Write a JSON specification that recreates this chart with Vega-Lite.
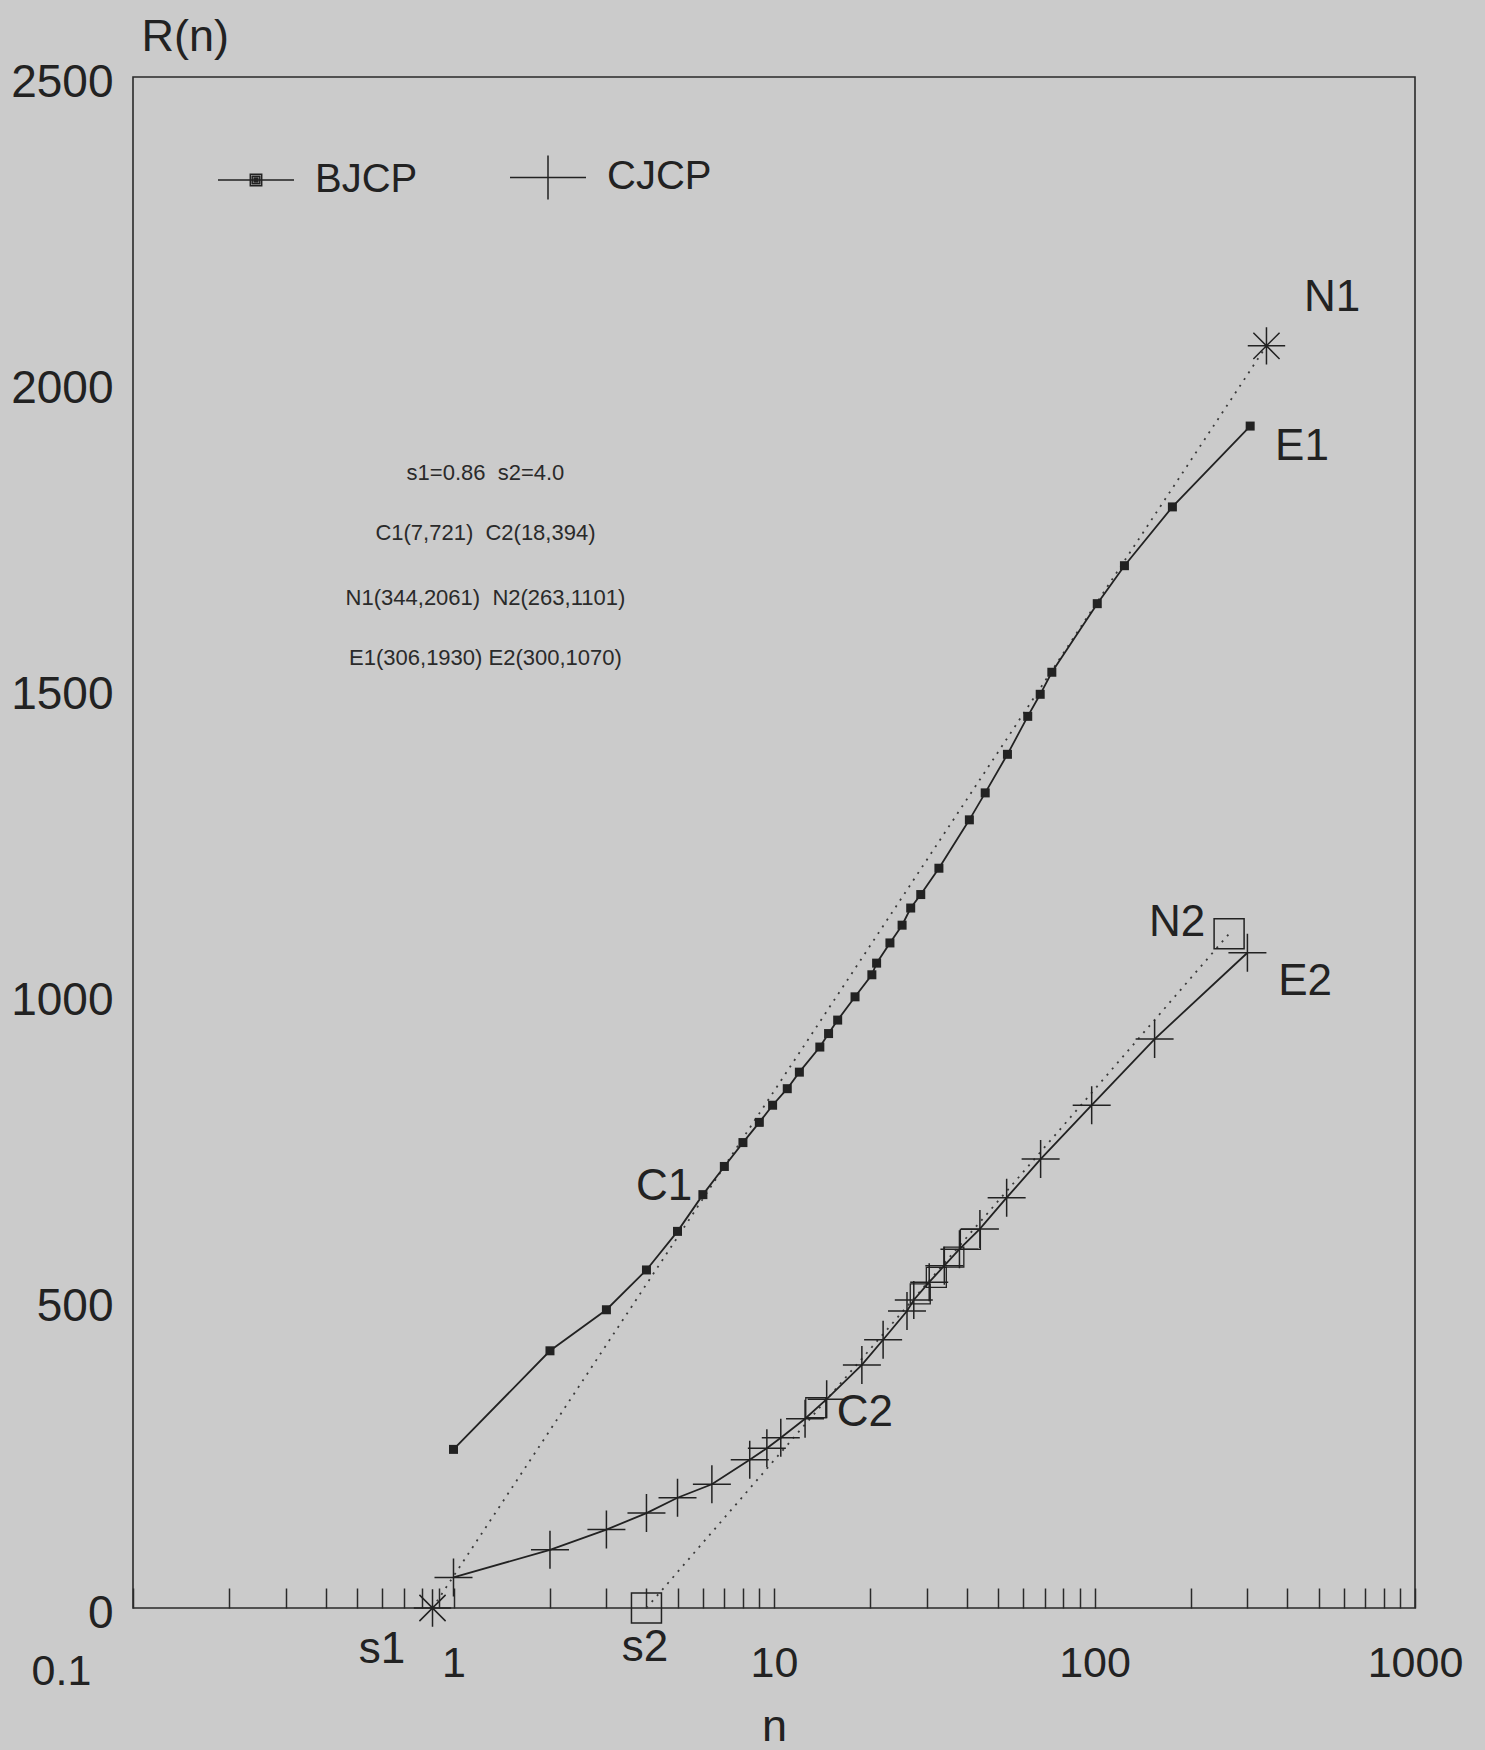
{
  "$schema": "https://vega.github.io/schema/vega-lite/v6.json",
  "width": 1282,
  "height": 1531,
  "autosize": {"type": "none"},
  "padding": {"left": 133, "top": 77, "right": 70, "bottom": 142},
  "background": "#cbcbcb",
  "config": {
    "view": {"stroke": "#2a2a2a", "strokeWidth": 1.6},
    "font": "Liberation Sans"
  },
  "datasets": {
    "bjcp": [
      {"series": "BJCP", "n": 1, "R": 259}, {"series": "BJCP", "n": 2, "R": 420}, {"series": "BJCP", "n": 3, "R": 487},
      {"series": "BJCP", "n": 4, "R": 552}, {"series": "BJCP", "n": 5, "R": 615}, {"series": "BJCP", "n": 6, "R": 675},
      {"series": "BJCP", "n": 7, "R": 721}, {"series": "BJCP", "n": 8, "R": 760}, {"series": "BJCP", "n": 9, "R": 793},
      {"series": "BJCP", "n": 9.9, "R": 821}, {"series": "BJCP", "n": 11, "R": 848}, {"series": "BJCP", "n": 12, "R": 875},
      {"series": "BJCP", "n": 13.9, "R": 916}, {"series": "BJCP", "n": 14.8, "R": 938}, {"series": "BJCP", "n": 15.8, "R": 960},
      {"series": "BJCP", "n": 17.9, "R": 998}, {"series": "BJCP", "n": 20.2, "R": 1034}, {"series": "BJCP", "n": 20.9, "R": 1053},
      {"series": "BJCP", "n": 23, "R": 1086}, {"series": "BJCP", "n": 25.1, "R": 1115}, {"series": "BJCP", "n": 26.7, "R": 1143},
      {"series": "BJCP", "n": 28.7, "R": 1165}, {"series": "BJCP", "n": 32.7, "R": 1208}, {"series": "BJCP", "n": 40.7, "R": 1287},
      {"series": "BJCP", "n": 45.6, "R": 1331}, {"series": "BJCP", "n": 53.5, "R": 1394}, {"series": "BJCP", "n": 61.9, "R": 1456},
      {"series": "BJCP", "n": 67.7, "R": 1492}, {"series": "BJCP", "n": 73.6, "R": 1528}, {"series": "BJCP", "n": 102, "R": 1640},
      {"series": "BJCP", "n": 124, "R": 1702}, {"series": "BJCP", "n": 175, "R": 1798}, {"series": "BJCP", "n": 306, "R": 1930}
    ],
    "cjcp": [
      {"series": "CJCP", "n": 1, "R": 50}, {"series": "CJCP", "n": 2, "R": 95}, {"series": "CJCP", "n": 3, "R": 128},
      {"series": "CJCP", "n": 4, "R": 155}, {"series": "CJCP", "n": 5, "R": 180}, {"series": "CJCP", "n": 6.4, "R": 202},
      {"series": "CJCP", "n": 8.4, "R": 242}, {"series": "CJCP", "n": 9.5, "R": 261}, {"series": "CJCP", "n": 10.5, "R": 278},
      {"series": "CJCP", "n": 12.5, "R": 309}, {"series": "CJCP", "n": 14.6, "R": 341}, {"series": "CJCP", "n": 18.8, "R": 397},
      {"series": "CJCP", "n": 21.9, "R": 438}, {"series": "CJCP", "n": 26, "R": 485}, {"series": "CJCP", "n": 27.3, "R": 503},
      {"series": "CJCP", "n": 30.5, "R": 532}, {"series": "CJCP", "n": 34, "R": 559}, {"series": "CJCP", "n": 37.9, "R": 586},
      {"series": "CJCP", "n": 43.9, "R": 619}, {"series": "CJCP", "n": 53.2, "R": 670}, {"series": "CJCP", "n": 67.9, "R": 733},
      {"series": "CJCP", "n": 98, "R": 821}, {"series": "CJCP", "n": 154, "R": 929}, {"series": "CJCP", "n": 300, "R": 1070}
    ],
    "dotted": [
      {"g": "1", "n": 0.86, "R": 0}, {"g": "1", "n": 344, "R": 2061},
      {"g": "2", "n": 4, "R": 0}, {"g": "2", "n": 263, "R": 1101}
    ],
    "bigsq": [{"n": 4, "R": 0}, {"n": 263, "R": 1101}],
    "smallsq": [
      {"n": 13.5, "R": 327}, {"n": 28.6, "R": 513}, {"n": 32.1, "R": 540}, {"n": 36.4, "R": 573}, {"n": 41, "R": 602}
    ],
    "stars": [{"n": 0.86, "R": 0}, {"n": 344, "R": 2061}],
    "labels": [
      {"text": "N1", "n": 551, "R": 2139}, {"text": "E1", "n": 444, "R": 1896},
      {"text": "N2", "n": 181, "R": 1119}, {"text": "E2", "n": 454, "R": 1022},
      {"text": "C1", "n": 4.54, "R": 687}, {"text": "C2", "n": 19.2, "R": 318},
      {"text": "s1", "n": 0.598, "R": -69}, {"text": "s2", "n": 3.96, "R": -65}
    ],
    "notes": [
      {"text": "s1=0.86\u00a0 s2=4.0", "n": 1.258, "R": 1853},
      {"text": "C1(7,721)\u00a0 C2(18,394)", "n": 1.258, "R": 1755},
      {"text": "N1(344,2061)\u00a0 N2(263,1101)", "n": 1.258, "R": 1649},
      {"text": "E1(306,1930) E2(300,1070)", "n": 1.258, "R": 1551}
    ]
  },
  "encoding": {
    "x": {
      "field": "n", "type": "quantitative",
      "scale": {"type": "log", "domain": [0.1, 1000], "nice": false},
      "axis": {
        "values": [0.1, 0.2, 0.3, 0.4, 0.5, 0.6, 0.7, 0.8, 0.9, 1, 2, 3, 4, 5, 6, 7, 8, 9, 10, 20, 30, 40, 50, 60, 70, 80, 90, 100, 200, 300, 400, 500, 600, 700, 800, 900, 1000],
        "format": "~g",
        "labelExpr": "indexof([0.1, 1, 10, 100, 1000], datum.value) >= 0 ? datum.label : ''",
        "tickSize": -20, "tickColor": "#2a2a2a", "tickWidth": 1.5,
        "domain": false, "grid": false,
        "labelFont": "Liberation Sans", "labelFontSize": 43, "labelColor": "#222222",
        "labelBaseline": "alphabetic",
        "labelPadding": {"condition": {"test": "datum.value == 0.1", "value": 96}, "value": 88},
        "labelOffset": {"condition": {"test": "datum.value == 0.1", "value": -72}, "value": 0},
        "labelOverlap": false, "labelFlush": false, "labelBound": false,
        "title": "n", "titleFont": "Liberation Sans", "titleFontSize": 45, "titleFontWeight": "normal", "titleColor": "#222222",
        "titleBaseline": "alphabetic", "titleY": 132
      }
    },
    "y": {
      "field": "R", "type": "quantitative",
      "scale": {"domain": [0, 2500], "nice": false, "zero": false},
      "axis": {
        "values": [0, 500, 1000, 1500, 2000, 2500], "format": "d",
        "ticks": false, "domain": false, "grid": false,
        "labelFont": "Liberation Sans", "labelFontSize": 46, "labelColor": "#222222", "labelPadding": 20, "labelOffset": 5,
        "title": "R(n)", "titleAngle": 0, "titleAlign": "left", "titleBaseline": "alphabetic",
        "titleX": 8, "titleY": -27, "titleFont": "Liberation Sans", "titleFontSize": 45, "titleFontWeight": "normal", "titleColor": "#222222"
      }
    }
  },
  "layer": [
    {
      "data": {"name": "dotted"},
      "mark": {"type": "line", "color": "#3a3a3a", "strokeWidth": 1.8, "strokeDash": [2, 6]},
      "encoding": {"detail": {"field": "g", "type": "nominal"}}
    },
    {
      "data": {"name": "bjcp"},
      "mark": {"type": "line", "color": "#222222", "strokeWidth": 1.8},
      "encoding": {}
    },
    {
      "data": {"name": "cjcp"},
      "mark": {"type": "line", "color": "#222222", "strokeWidth": 1.8},
      "encoding": {}
    },
    {
      "data": {"name": "bjcp"},
      "mark": {"type": "point", "shape": "square", "filled": true, "color": "#222222", "size": 81, "opacity": 1}
    },
    {
      "data": {"name": "cjcp"},
      "mark": {"type": "point", "shape": "M-1,0H1M0,-1V1", "filled": false, "color": "#222222", "strokeWidth": 1.5, "size": 1444, "opacity": 1}
    },
    {
      "data": {"name": "bjcp"},
      "transform": [{"filter": "false"}],
      "mark": {"type": "point", "filled": false, "color": "#222222", "strokeWidth": 1.5, "size": 5776, "opacity": 1},
      "encoding": {
        "shape": {
          "field": "series", "type": "nominal",
          "scale": {
            "domain": ["BJCP", "CJCP"],
            "range": [
              "M-1,0H1M-0.15,-0.15H0.15V0.15H-0.15ZM-0.1,-0.1H0.1V0.1H-0.1ZM-0.05,-0.05H0.05V0.05H-0.05ZM-0.02,-0.02H0.02V0.02H-0.02Z",
              "M-1,0H1M0,-0.58V0.58"
            ]
          },
          "legend": {
            "orient": "none", "legendX": 84, "legendY": 61, "direction": "horizontal", "columns": 2,
            "title": null, "padding": 0, "symbolSize": 5776, "columnPadding": 89,
            "labelFont": "Liberation Sans", "labelFontSize": 40, "labelColor": "#222222", "labelOffset": 20,
            "symbolStrokeWidth": 1.5, "symbolStrokeColor": "#222222", "symbolOpacity": 1
          }
        }
      }
    },
    {
      "data": {"name": "bigsq"},
      "mark": {"type": "point", "shape": "square", "filled": false, "stroke": "#222222", "strokeWidth": 1.5, "size": 900, "opacity": 1}
    },
    {
      "data": {"name": "smallsq"},
      "mark": {"type": "point", "shape": "square", "filled": false, "stroke": "#222222", "strokeWidth": 1.3, "size": 400, "opacity": 1}
    },
    {
      "data": {"name": "stars"},
      "mark": {"type": "point", "shape": "M-1,0H1M0,-1V1M-0.7,-0.7L0.7,0.7M-0.7,0.7L0.7,-0.7", "filled": false, "stroke": "#222222", "strokeWidth": 1.5, "size": 1400, "opacity": 1}
    },
    {
      "data": {"name": "labels"},
      "mark": {"type": "text", "font": "Liberation Sans", "fontSize": 44, "color": "#222222", "align": "center", "baseline": "middle"},
      "encoding": {"text": {"field": "text", "type": "nominal"}}
    },
    {
      "data": {"name": "notes"},
      "mark": {"type": "text", "font": "Liberation Sans", "fontSize": 22, "color": "#2a2a2a", "align": "center", "baseline": "middle"},
      "encoding": {"text": {"field": "text", "type": "nominal"}}
    }
  ]
}
